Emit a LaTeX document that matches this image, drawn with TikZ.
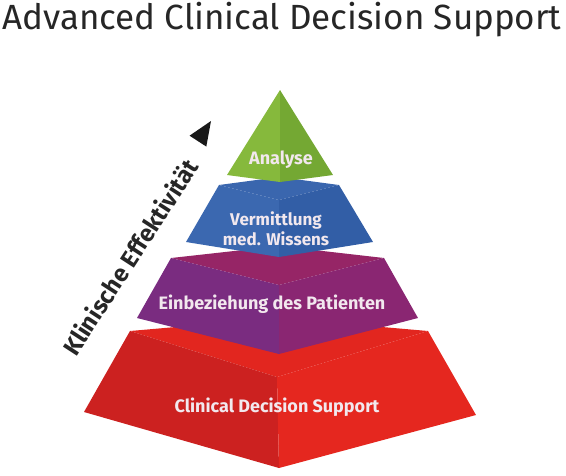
\documentclass[tikz,border=0pt]{standalone}
\usepackage{fontspec}
\setmainfont{Fira Sans}
\usetikzlibrary{calc}
\definecolor{gL}{HTML}{86B93C}
\definecolor{gR}{HTML}{74A833}
\definecolor{bT}{HTML}{3A66AE}
\definecolor{bL}{HTML}{3B68B0}
\definecolor{bR}{HTML}{325EA6}
\definecolor{pT}{HTML}{962566}
\definecolor{pL}{HTML}{7A2C80}
\definecolor{pR}{HTML}{8A2672}
\definecolor{rT}{HTML}{E2261F}
\definecolor{rL}{HTML}{CC2120}
\definecolor{rR}{HTML}{E5271F}
\definecolor{lbl}{HTML}{F2E8EE}
\tikzset{
  lab/.style={text=lbl, font=\bfseries\fontsize{18}{21}\selectfont, align=center, inner sep=0pt},
}
\begin{document}
\begin{tikzpicture}[x=1pt,y=-1pt]
\useasboundingbox (0,0) rectangle (566,475);
% title
\node[anchor=base, inner sep=0pt, font=\fontsize{35}{40}\selectfont, text=black!85] (title) at (282,29) {Advanced Clinical Decision Support};
% red layer
\fill[rT] (130,331) -- (279,318) -- (428,331) -- (277,377) -- cycle;
\fill[rL] (130,331) -- (277,377) -- (279,468) -- (84,412) -- cycle;
\fill[rR] (277,377) -- (428,331) -- (476,415) -- (279,468) -- cycle;
% purple layer
\fill[pT] (171,258) -- (279,246) -- (384,258) -- (279,285) -- cycle;
\fill[pL] (171,258) -- (279,285) -- (279,354) -- (137,318) -- cycle;
\fill[pR] (279,285) -- (384,258) -- (418,318) -- (279,354) -- cycle;
% blue layer
\fill[bT] (219,185) -- (279,177) -- (339,185) -- (279,200) -- cycle;
\fill[bL] (219,185) -- (279,200) -- (279,257) -- (186,242) -- cycle;
\fill[bR] (279,200) -- (339,185) -- (373,242) -- (279,257) -- cycle;
% green top
\fill[gL] (280,90) -- (280,182) -- (227,175) -- cycle;
\fill[gR] (280,90) -- (333,175) -- (280,182) -- cycle;
% labels
\node[lab] (analyse) at (281,160) {Analyse};
\node[lab, font=\bfseries\fontsize{17}{20}\selectfont] (verm) at (276,229) {Vermittlung\\med. Wissens};
\node[lab] (einb) at (272,304) {Einbeziehung des Patienten};
\node[lab] (cds) at (277,407) {Clinical Decision Support};
% axis label and arrow head
\node[rotate=57, font=\bfseries\fontsize{24}{28}\selectfont, text=black!85, inner sep=0pt] (klin) at (130,257) {Klinische Effektivität};
\coordinate (tip) at (211,121);
\fill[black!90] (tip) -- ($(tip)+(123:24)+(33:10)$) -- ($(tip)+(123:24)+(213:10)$) -- cycle;
\end{tikzpicture}
\end{document}
